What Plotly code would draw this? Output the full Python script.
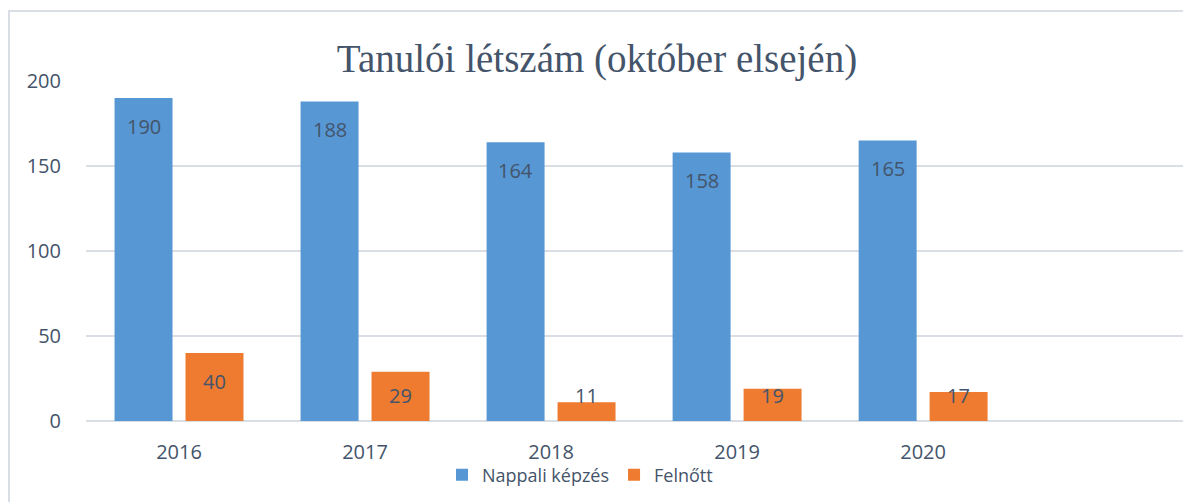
import plotly.graph_objects as go

years = ["2016", "2017", "2018", "2019", "2020"]
nappali = [190, 188, 164, 158, 165]
felnott = [40, 29, 11, 19, 17]
series_names = ["Nappali képzés", "Felnőtt"]
colors = ["#5797d4", "#ee7b30"]
y_ticks = [0, 50, 100, 150, 200]

W, H = 1191, 502
ML, MR, MT, MB = 78, 8, 73, 89
plot_w = W - ML - MR
plot_h = H - MT - MB
ymax = 200
px_per_unit = plot_h / ymax

TXT = "#44546a"
FONT = "Open Sans"

fig = go.Figure()
for name, vals, col in zip(series_names, [nappali, felnott], colors):
    fig.add_trace(go.Bar(x=years, y=vals, name=name, marker=dict(color=col, line=dict(width=0))))

# data labels (Excel "inside end" style)
for vals, xs in zip([nappali, felnott], [-35.5, 35.5]):
    for i, v in enumerate(vals):
        if v * px_per_unit - 28 > 26:
            y, ysh = v, -28
        else:
            y, ysh = 0, 26
        fig.add_annotation(x=i, y=y, xref="x", yref="y", xshift=xs, yshift=ysh,
                           text=str(v), showarrow=False, yanchor="middle", xanchor="center",
                           font=dict(family=FONT, size=20, color=TXT))

# chart border
fig.add_shape(type="rect", xref="paper", yref="paper",
              x0=(1 - ML) / plot_w, x1=1.2,
              y0=-0.5, y1=(plot_h + MT - 3) / plot_h,
              line=dict(color="#d9dee5", width=2), fillcolor="rgba(0,0,0,0)", layer="below")

fig.update_layout(
    width=W, height=H,
    margin=dict(l=ML, r=MR, t=MT, b=MB),
    paper_bgcolor="white", plot_bgcolor="white",
    barmode="group", bargap=0.237, bargroupgap=0.183,
    title=dict(text="Tanulói létszám (október elsején)", x=589 / W, xref="container",
               y=1 - 50 / H, yref="container", xanchor="center", yanchor="middle",
               font=dict(family="Liberation Serif", size=39, color=TXT)),
    font=dict(family=FONT, size=20, color=TXT),
    showlegend=True,
    legend=dict(orientation="h", x=(572 - ML) / plot_w, xanchor="center",
                y=(plot_h + MT - 467) / plot_h, yanchor="middle",
                font=dict(family=FONT, size=18, color=TXT),
                itemwidth=30, tracegroupgap=0, bgcolor="rgba(0,0,0,0)"),
    xaxis=dict(type="category", range=[-0.5, 5.44], showgrid=False, showline=False,
               zeroline=False, ticks="", tickfont=dict(family=FONT, size=20, color=TXT),
               ticklabelstandoff=17),
    yaxis=dict(range=[0, ymax], tickvals=y_ticks, showgrid=True, gridcolor="#d9dee5",
               gridwidth=1.5, zeroline=True, zerolinecolor="#d9dee5", zerolinewidth=1.5,
               showline=False, ticks="", tickfont=dict(family=FONT, size=20, color=TXT),
               ticklabelstandoff=24),
)

fig.write_html("out.html")
